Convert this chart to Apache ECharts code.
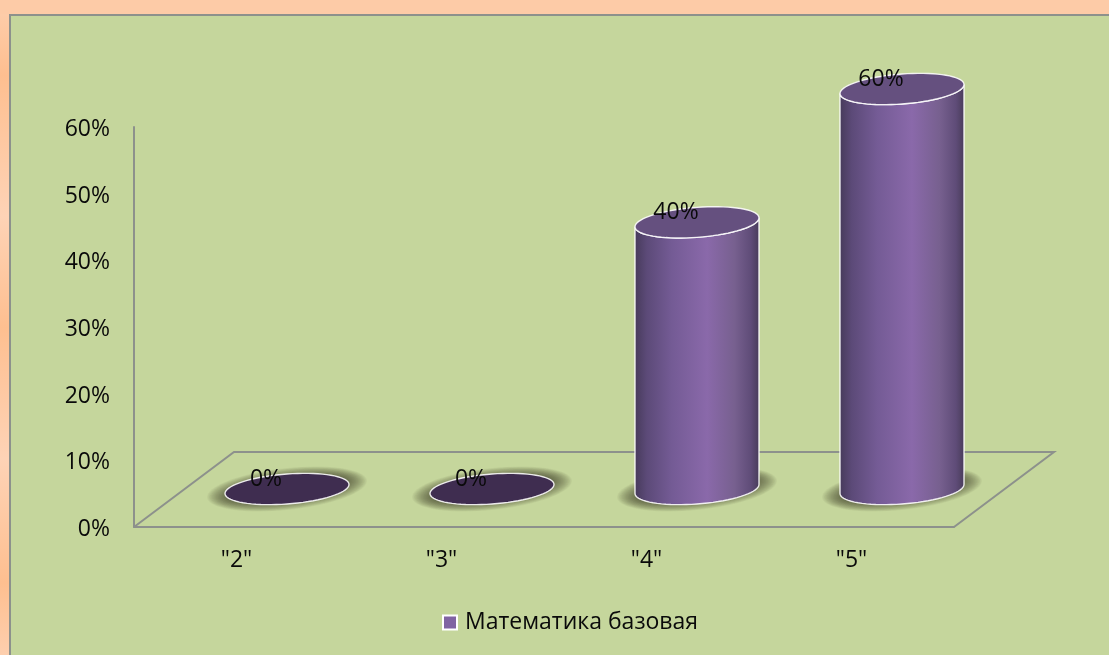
<!DOCTYPE html>
<html>
<head>
<meta charset="utf-8">
<style>html,body{margin:0;padding:0;overflow:hidden;background:#fdcba7}#c{width:1109px;height:655px}</style>
<script src="https://cdn.jsdelivr.net/npm/echarts@6/dist/echarts.min.js"></script>
</head>
<body>
<div id="c"></div>
<script>
const categories = ['"2"', '"3"', '"4"', '"5"'];
const seriesName = 'Математика базовая';
const values = [0, 0, 40, 60];
const yTicks = [0, 10, 20, 30, 40, 50, 60];

const FONT = '"Open Sans","Noto Sans",sans-serif';
const TEXT = '#0a0a0a';
const SIZE = 23;
const GRAY = '#8d918c';
const DEPTH_X = 100, DEPTH_Y = -75;   // floor depth of the 3D frame
const A = 62, B = 15, K = 4.5;        // cylinder cap ellipse

function capPoint(cx, cy, t, a, b, k) {
  return [cx + a * Math.cos(t), cy + b * Math.sin(t) - k * Math.cos(t)];
}
function ellipse(cx, cy, a, b, k) {
  const p = [];
  for (let i = 0; i < 72; i++) p.push(capPoint(cx, cy, i / 72 * 2 * Math.PI, a, b, k));
  return p;
}
function bodyOutline(cx, topY, botY) {
  const p = [];
  for (let i = 0; i <= 36; i++) p.push(capPoint(cx, botY, i / 36 * Math.PI, A, B, K));
  for (let i = 36; i >= 0; i--) p.push(capPoint(cx, topY, i / 36 * Math.PI, A, B, K));
  return p;
}
const bodyFill = {
  type: 'linear', x: 0, y: 0, x2: 1, y2: 0,
  colorStops: [
    { offset: 0, color: '#463a5a' }, { offset: 0.1, color: '#5c4a78' },
    { offset: 0.3, color: '#745b95' }, { offset: 0.58, color: '#8a69aa' },
    { offset: 0.8, color: '#77608f' }, { offset: 0.93, color: '#5f4c78' },
    { offset: 1, color: '#473b58' }
  ]
};

function renderFloor(params, api) {
  const c = params.coordSys;
  const l = c.x, r = c.x + c.width, b = c.y + c.height;
  return {
    type: 'polyline', silent: true,
    shape: { points: [[l, b], [l + DEPTH_X, b + DEPTH_Y], [r + DEPTH_X, b + DEPTH_Y], [r, b]] },
    style: { stroke: GRAY, lineWidth: 2, fill: null }
  };
}

function renderCylinder(params, api) {
  const v = api.value(1);
  const top = api.coord([api.value(0), v]);
  const base = api.coord([api.value(0), 0]);
  const cx = top[0] + DEPTH_X / 2 + 0.5;
  const topY = top[1] + DEPTH_Y / 2 - 0.5;
  const botY = base[1] + DEPTH_Y / 2 - 0.5;
  const children = [];
  // soft contact shadow, built from stacked translucent ellipses
  const rings = 26;
  for (let i = 0; i < rings; i++) {
    const f = i / (rings - 1);
    children.push({
      type: 'polygon', silent: true,
      shape: { points: ellipse(cx, botY, 80 - 22 * f, 21 - 11 * f, 8) },
      style: { fill: 'rgba(58,66,44,0.045)' }
    });
  }
  const edge = { stroke: 'rgba(255,255,255,0.88)', lineWidth: 1.4 };
  if (v > 0) {
    children.push({
      type: 'polygon', silent: true,
      shape: { points: bodyOutline(cx, topY, botY) },
      style: Object.assign({ fill: bodyFill }, edge)
    });
  }
  children.push({
    type: 'polygon', silent: true,
    shape: { points: ellipse(cx, topY, A, B, K) },
    style: Object.assign({ fill: v > 0 ? '#65507f' : '#3f2d50' }, edge)
  });
  children.push({
    type: 'text', silent: true,
    style: {
      text: v + '%', x: cx - 21, y: topY - 10, align: 'center', verticalAlign: 'middle',
      fill: TEXT, font: SIZE + 'px ' + FONT
    }
  });
  return { type: 'group', children };
}

const chart = echarts.init(document.getElementById('c'));
chart.setOption({
  animation: false,
  backgroundColor: {
    type: 'linear', x: 0, y: 0, x2: 0, y2: 1,
    colorStops: [
      { offset: 0, color: '#fdcfae' }, { offset: 0.115, color: '#fdbf90' },
      { offset: 0.33, color: '#fdd3b6' }, { offset: 0.5, color: '#fdbf90' },
      { offset: 0.7, color: '#fdd3b6' }, { offset: 0.89, color: '#fdbf90' },
      { offset: 1, color: '#fdcfae' }
    ]
  },
  graphic: [
    { type: 'rect', z: -10, silent: true, shape: { x: 0, y: 0, width: 1109, height: 14 }, style: { fill: '#fdcba7' } },
    { type: 'rect', z: -10, silent: true, shape: { x: 10, y: 15, width: 1110, height: 650 },
      style: { fill: '#c5d69c', stroke: GRAY, lineWidth: 2 } }
  ],
  textStyle: { fontFamily: FONT },
  grid: { left: 134, top: 127, width: 820, height: 400 },
  legend: {
    show: true, data: [seriesName], left: 437, top: 606, itemWidth: 14, itemHeight: 14, itemGap: 11, icon: 'rect',
    textStyle: { color: TEXT, rich: { a: { fontSize: SIZE, fontFamily: FONT, color: TEXT, padding: [0, 0, 0, 3] } } },
    formatter: name => '{a|' + name + '}'
  },
  xAxis: {
    type: 'category', data: categories,
    axisLine: { show: true, lineStyle: { color: GRAY, width: 2 } },
    axisTick: { show: false },
    axisLabel: { color: TEXT, fontSize: SIZE, margin: 22, fontFamily: FONT }
  },
  yAxis: {
    type: 'value', min: 0, max: 60, interval: 10,
    axisLine: { show: true, lineStyle: { color: GRAY, width: 2 } },
    axisTick: { show: false },
    splitLine: { show: false },
    axisLabel: {
      margin: 24, formatter: '{a|{value}%}',
      rich: { a: { color: TEXT, fontSize: SIZE, fontFamily: FONT, padding: [5, 0, 0, 0] } }
    }
  },
  series: [
    { type: 'custom', name: 'floor', silent: true, z: 1, data: [[0, 0]], renderItem: renderFloor, encode: { x: 0, y: 1 } },
    {
      type: 'custom', name: seriesName, z: 2, silent: true,
      itemStyle: { color: '#8064a2', borderColor: '#fff', borderWidth: 1 },
      data: values.map((v, i) => [i, v]), renderItem: renderCylinder, encode: { x: 0, y: 1 }
    }
  ]
});
</script>
</body>
</html>
